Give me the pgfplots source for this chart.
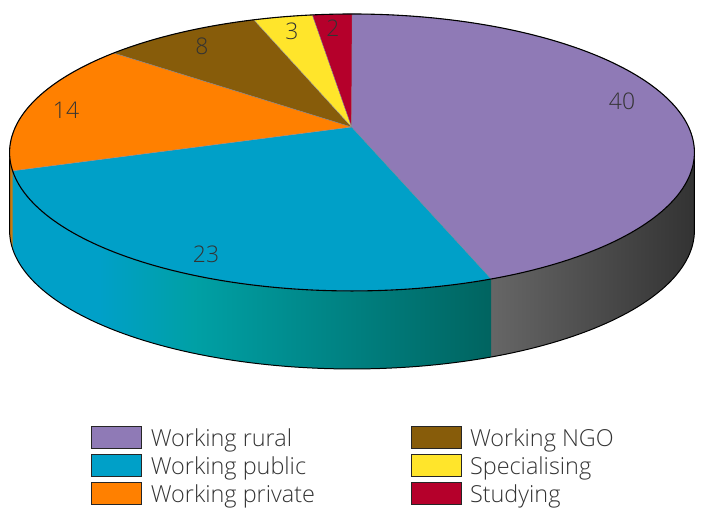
\documentclass[border=0pt]{standalone}
\usepackage{pgfplots}
\pgfplotsset{compat=1.18}
\usepackage{fontspec}
\setmainfont{Open Sans Light}

\definecolor{cRural}{HTML}{8F7AB6}
\definecolor{cPublic}{HTML}{00A0C8}
\definecolor{cPrivate}{HTML}{FF8000}
\definecolor{cNGO}{HTML}{875C0A}
\definecolor{cSpec}{HTML}{FFE52B}
\definecolor{cStudy}{HTML}{B5002B}
\definecolor{txt}{HTML}{333333}
\definecolor{sliceLine}{HTML}{8A8A9A}
\definecolor{wallTeal}{HTML}{00A0A5}
\definecolor{wallDark}{HTML}{006460}
\definecolor{wallOrange}{HTML}{C87A10}

% Blue side wall: stays blue, turns teal, then darkens towards the right
\pgfdeclarehorizontalshading{wallBlue}{100bp}{
  color(0bp)=(cPublic); color(34bp)=(cPublic); color(44bp)=(wallTeal);
  color(75bp)=(wallDark); color(100bp)=(wallDark)}

% Slice values and their running totals (share of 90)
\def\vRural{40}\def\vPublic{23}\def\vPrivate{14}\def\vNGO{8}\def\vSpec{3}\def\vStudy{2}
\pgfmathsetmacro\cA{\vRural}
\pgfmathsetmacro\cB{\cA+\vPublic}
\pgfmathsetmacro\cC{\cB+\vPrivate}
\pgfmathsetmacro\cD{\cC+\vNGO}
\pgfmathsetmacro\cE{\cD+\vSpec}
\pgfmathsetmacro\cF{\cE+\vStudy}

% Rim of the disc in perspective: #1 result, #2/#3 running totals, #4 drop below the top face
\newcommand\buildarc[4]{%
  \gdef#1{}%
  \pgfmathtruncatemacro\N{ceil(abs(#3-#2)*3)+2}%
  \foreach \i in {0,...,\N}{%
    \pgfmathsetmacro\t{(#2+(#3-#2)/\N*\i)*4}%
    \pgfmathsetmacro\d{1+0.184*cos(\t)}%
    \pgfmathsetmacro\X{352+336.6*sin(\t)/\d}%
    \pgfmathsetmacro\Y{381+133.8*cos(\t)/\d-#4}%
    \xdef#1{#1 (\X,\Y)}%
  }%
}
\newcommand\addpoly[2]{\expandafter\addpolyi\expandafter{#2}{#1}}
\def\addpolyi#1#2{\addplot[#2] coordinates {#1};}

% Top face: apex, arc, apex
\def\apex{(351.6,381)}
\newcommand\buildslice[3]{%
  \buildarc\tmparc{#2}{#3}{0}%
  \xdef#1{\apex\space\tmparc\space\apex}%
}
\buildslice\aRural{0}{\cA}
\buildslice\aPublic{\cA}{\cB}
\buildslice\aPrivate{\cB}{\cC}
\buildslice\aNGO{\cC}{\cD}
\buildslice\aSpec{\cD}{\cE}
\buildslice\aStudy{\cE}{\cF}
\buildarc\aRim{0}{\cF}{0}

% Side wall pieces; 25.15 and 64.85 are the silhouette points of the rim
\def\wallL{25.15}\def\wallR{64.85}
\newcommand\buildwall[3]{%
  \buildarc\tmpT{#2}{#3}{0}%
  \buildarc\tmpB{#3}{#2}{78}%
  \xdef#1{\tmpT\space\tmpB}%
}
\buildwall\wRural{\wallL}{\cA}
\buildwall\wPublic{\cA}{\cB}
\buildwall\wPrivate{\cB}{\wallR}
% Outline of the wall: down one side, along the bottom, up the other side
\buildarc\tmpB{\wallL}{\wallR}{78}
\buildarc\tmpL{\wallL}{\wallL}{0}
\buildarc\tmpR{\wallR}{\wallR}{0}
\xdef\wOutline{\tmpL\space\tmpB\space\tmpR}

\begin{document}
\begin{tikzpicture}
\useasboundingbox (0,0) rectangle (702bp,508bp);
\begin{axis}[
  at={(0,0)}, anchor=south west,
  width=702bp, height=508bp, scale only axis,
  xmin=0, xmax=702, ymin=0, ymax=508,
  hide axis, clip=false,
  legend columns=3, transpose legend,
  legend cell align=left,
  legend style={draw=none, fill=none, at={(axis cs:90.7,-0.6)}, anchor=south west,
    inner sep=0pt, outer sep=0pt,
    font=\fontsize{23.5}{28}\selectfont, text=txt,
    nodes={inner sep=0pt, text depth=6pt, text height=17pt},
    /tikz/column 1/.style={column sep=9bp},
    /tikz/column 2/.style={column sep=96bp},
    /tikz/column 3/.style={column sep=8bp},
    /tikz/row sep=1bp},
  legend image code/.code={%
    \draw[#1, draw=black!85, line width=1.1pt] (0bp,-7bp) rectangle (50bp,15bp);},
]
% Side wall, shaded along x
\addpoly{forget plot, draw=none, left color=black!60, right color=black!80}{\wRural}
\addpoly{forget plot, draw=none, shade, shading=wallBlue}{\wPublic}
\addpoly{forget plot, draw=none, fill=wallOrange}{\wPrivate}
\addpoly{forget plot, draw=black, line width=1pt}{\wOutline}

% Top face
\addpoly{fill=cRural, draw=sliceLine, line width=0.3pt}{\aRural}
\addlegendentry{Working rural}
\addpoly{fill=cPublic, draw=sliceLine, line width=0.3pt}{\aPublic}
\addlegendentry{Working public}
\addpoly{fill=cPrivate, draw=sliceLine, line width=0.3pt}{\aPrivate}
\addlegendentry{Working private}
\addpoly{fill=cNGO, draw=sliceLine, line width=0.3pt}{\aNGO}
\addlegendentry{Working NGO}
\addpoly{fill=cSpec, draw=sliceLine, line width=0.3pt}{\aSpec}
\addlegendentry{Specialising}
\addpoly{fill=cStudy, draw=sliceLine, line width=0.3pt}{\aStudy}
\addlegendentry{Studying}
\addpoly{forget plot, draw=black, line width=1.1pt}{\aRim}

% Value labels on the slices
\addplot[forget plot, draw=none, mark=none,
  nodes near coords, point meta=explicit symbolic,
  nodes near coords style={anchor=center, text=txt, font=\fontsize{23}{28}\selectfont}]
  table[meta=v] {
    x y v
    622 407 40
    206 254 23
    66 398 14
    202 462 8
    292 477 3
    333 480 2
  };
\end{axis}
\end{tikzpicture}
\end{document}
